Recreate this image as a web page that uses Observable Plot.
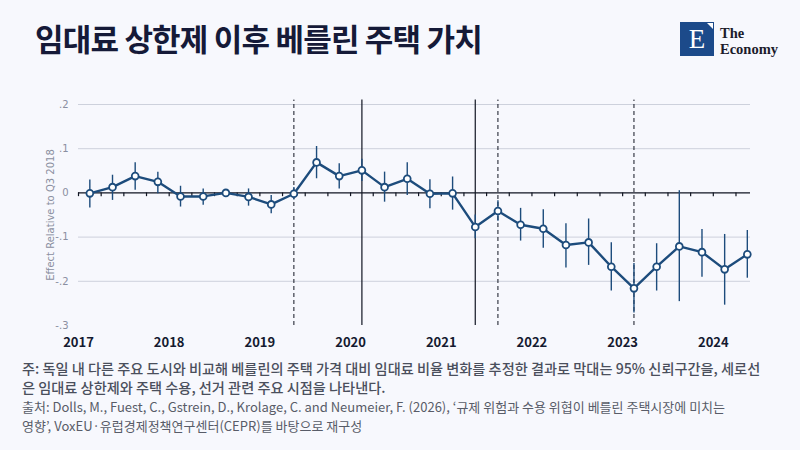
<!DOCTYPE html>
<html>
<head>
<meta charset="utf-8">
<script src="https://cdn.jsdelivr.net/npm/d3@7"></script>
<script src="https://cdn.jsdelivr.net/npm/@observablehq/plot@0.6"></script>
<style>
  html, body { margin: 0; padding: 0; }
  body { width: 800px; height: 450px; background: #f7f8fd; position: relative; overflow: hidden; font-family: "Noto Sans CJK KR", "Noto Sans", sans-serif; }
  #title { position: absolute; left: 35px; top: 15px; font-size: 31px; font-weight: 700; color: #151a38; letter-spacing: -0.8px; white-space: nowrap; }
  #logo { position: absolute; left: 680px; top: 22px; }
  #logo .box { position: absolute; left: 0; top: 0; width: 34px; height: 34px; background: #1c4a8a; color: #fff; font-family: "Liberation Serif", serif; font-size: 27px; line-height: 34px; text-align: center; }
  #logo .notch { position: absolute; left: 27px; top: 1px; width: 0; height: 0; border-top: 6px solid #fff; border-left: 6px solid transparent; }
  #logo .name { position: absolute; left: 40px; top: 3px; font-family: "Liberation Serif", serif; font-weight: 700; font-size: 14.5px; line-height: 16px; color: #1b1b2b; white-space: nowrap; }
  #chart { position: absolute; left: 0; top: 90px; }
  #note { position: absolute; left: 22px; top: 359px; width: 775px; font-size: 14.2px; font-weight: 500; line-height: 19px; color: #4a4f5c; white-space: nowrap; }
  .src { position: absolute; left: 22px; font-size: 13px; line-height: 13px; color: #585c68; white-space: nowrap; }
</style>
</head>
<body>
<div id="title">임대료 상한제 이후 베를린 주택 가치</div>
<div id="logo"><div class="box">E<div class="notch"></div></div><div class="name">The<br>Economy</div></div>
<div id="chart"></div>
<div id="note">주: 독일 내 다른 주요 도시와 비교해 베를린의 주택 가격 대비 임대료 비율 변화를 추정한 결과로 막대는 95% 신뢰구간을, 세로선<br>은 임대료 상한제와 주택 수용, 선거 관련 주요 시점을 나타낸다.</div>
<div class="src" style="top:400px">출처: Dolls, M., Fuest, C., Gstrein, D., Krolage, C. and Neumeier, F. (2026), ‘규제 위험과 수용 위협이 베를린 주택시장에 미치는</div>
<div class="src" style="top:419px">영향’, VoxEU·유럽경제정책연구센터(CEPR)를 바탕으로 재구성</div>
<script>
// Quarters (period labels)
const periods = [
  "2017 Q1","2017 Q2","2017 Q3","2017 Q4",
  "2018 Q1","2018 Q2","2018 Q3","2018 Q4",
  "2019 Q1","2019 Q2","2019 Q3","2019 Q4",
  "2020 Q1","2020 Q2","2020 Q3","2020 Q4",
  "2021 Q1","2021 Q2","2021 Q3","2021 Q4",
  "2022 Q1","2022 Q2","2022 Q3","2022 Q4",
  "2023 Q1","2023 Q2","2023 Q3","2023 Q4",
  "2024 Q1","2024 Q2"
];
// Point estimates (effect relative to Q3 2018)
const estimates = [
  -0.001, 0.013, 0.038, 0.025,
  -0.008, -0.008, 0.000, -0.009,
  -0.026, -0.002, 0.069, 0.038,
  0.051, 0.013, 0.032, -0.002,
  -0.001, -0.077, -0.041, -0.072,
  -0.081, -0.118, -0.112, -0.167,
  -0.216, -0.167, -0.121, -0.134,
  -0.173, -0.139
];
// 95% confidence interval bounds (null = reference quarter)
const upper = [
  0.029, 0.040, 0.068, 0.047,
  0.015, 0.009, null, 0.009,
  -0.006, 0.012, 0.105, 0.066,
  0.076, 0.047, 0.068, 0.030,
  0.036, -0.050, -0.018, -0.035,
  -0.038, -0.070, -0.059, -0.113,
  -0.160, -0.115, 0.005, -0.083,
  -0.094, -0.085
];
const lower = [
  -0.034, -0.017, 0.006, -0.002,
  -0.032, -0.028, null, -0.030,
  -0.047, -0.016, 0.032, 0.009,
  0.026, -0.021, -0.006, -0.036,
  -0.039, -0.104, -0.064, -0.109,
  -0.125, -0.170, -0.164, -0.222,
  -0.272, -0.222, -0.246, -0.191,
  -0.254, -0.193
];
// Key events (vertical lines)
const dashedEvents = ["2019 Q2", "2021 Q3", "2023 Q1"];
const solidEvents = ["2020 Q1", "2021 Q2"];
// Axis tick labels
const yearTicks = [2017, 2018, 2019, 2020, 2021, 2022, 2023, 2024];
const yTicks = [0.2, 0.1, 0, -0.1, -0.2, -0.3];
const yTickLabels = [".2", ".1", "0", "-.1", "-.2", "-.3"];
const gridValues = [0.2, 0.1, -0.1, -0.2];

const qpos = (p) => { const [y, q] = p.split(" Q"); return +y + (+q - 0.5) / 4; };
const data = periods.map((p, i) => ({ x: qpos(p), est: estimates[i], lo: lower[i], hi: upper[i] }));
const ciData = data.filter(d => d.lo != null);
const quarterStarts = periods.map(p => qpos(p) - 0.125);

const lineColor = "#1d4c7c";

const chart = Plot.plot({
  width: 800,
  height: 265,
  marginTop: 14,
  marginBottom: 30,
  marginLeft: 78,
  marginRight: 50,
  style: { background: "transparent", overflow: "visible" },
  x: { domain: [2017, 2024.41] },
  y: { domain: [-0.3, 0.2] },
  marks: [
    Plot.ruleY(gridValues, { stroke: "#cdd1dc", strokeWidth: 1 }),
    Plot.axisY({
      ticks: yTicks,
      tickFormat: (d) => yTickLabels[yTicks.indexOf(d)] ?? "",
      tickSize: 0,
      tickPadding: 10,
      fontSize: 10,
      fontFamily: "DejaVu Sans",
      color: "#8a8fa0",
      label: "Effect Relative to Q3 2018",
      labelAnchor: "center",
      labelArrow: "none",
      labelOffset: 32
    }),
    Plot.axisX({
      ticks: yearTicks,
      tickFormat: (d) => String(d),
      tickSize: 0,
      tickPadding: 12,
      fontSize: 13,
      fontWeight: "bold",
      fontFamily: "Noto Sans CJK KR",
      color: "#141a30",
      label: null
    }),
    Plot.ruleY([0], { stroke: "#111522", strokeWidth: 1.3 }),
    Plot.ruleX(quarterStarts, { y1: 0, y2: -0.0085, stroke: "#111522", strokeWidth: 1.2 }),
    Plot.ruleX(dashedEvents.map(qpos), { y1: -0.3, y2: 0.21, stroke: "#111522", strokeWidth: 1, strokeDasharray: "4,3" }),
    Plot.ruleX(solidEvents.map(qpos), { y1: -0.3, y2: 0.21, stroke: "#111522", strokeWidth: 1.2 }),
    Plot.ruleX(ciData, { x: "x", y1: "lo", y2: "hi", stroke: lineColor, strokeWidth: 1.4 }),
    Plot.line(data, { x: "x", y: "est", stroke: lineColor, strokeWidth: 2.4 }),
    Plot.dot(data, { x: "x", y: "est", r: 3.4, fill: "white", stroke: lineColor, strokeWidth: 1.8 })
  ]
});
document.getElementById("chart").appendChild(chart);
</script>
</body>
</html>
